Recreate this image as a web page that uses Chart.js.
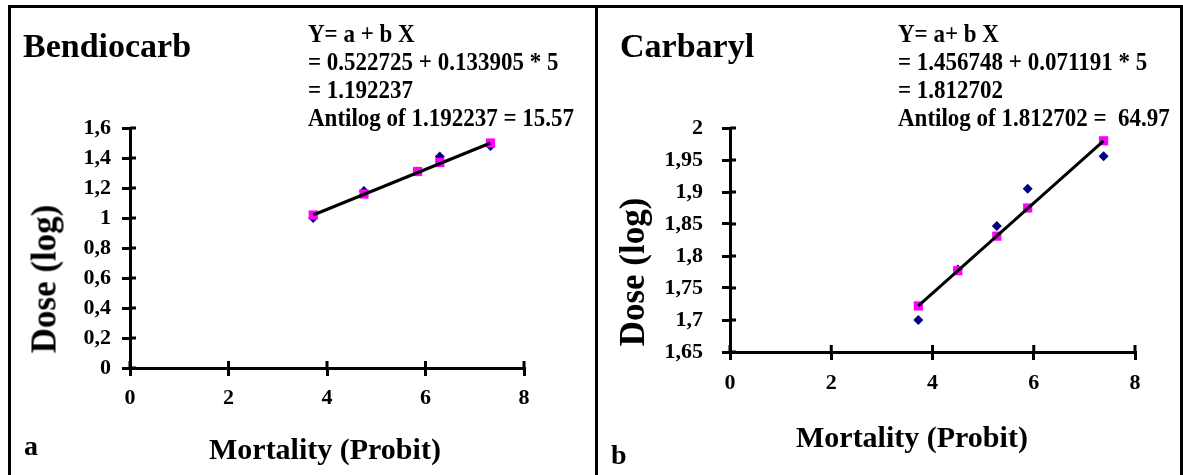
<!DOCTYPE html>
<html>
<head>
<meta charset="utf-8">
<script src="https://cdn.jsdelivr.net/npm/chart.js@4.4.1/dist/chart.umd.min.js"></script>
<style>
    body { margin: 0; background: #fff; }
    #wrap { position: relative; width: 1183px; height: 475px; overflow: hidden; font-family: "Liberation Serif", "Times New Roman", serif; font-weight: bold; color: #000; }
    .frame { position: absolute; left: 8px; top: 5px; width: 1169px; height: 480px; border: 3px solid #000; border-bottom: none; }
    .divider { position: absolute; left: 595px; top: 5px; width: 3px; height: 475px; background: #000; }
    canvas { position: absolute; top: 0; }
    .txt { position: absolute; line-height: 1; white-space: pre; }
    .eq { position: absolute; font-size: 25px; line-height: 28px; white-space: pre; transform: scaleX(0.92); transform-origin: left top; }
    .ylab { position: absolute; font-size: 35px; line-height: 1; white-space: pre; transform: translate(-50%, -50%) rotate(-90deg); }
</style>
</head>
<body>
<div id="wrap">
    <div class="frame"></div>
    <div class="divider"></div>
    <canvas id="bendiocarb" width="595" height="475" style="left:0px"></canvas>
    <canvas id="carbaryl" width="588" height="475" style="left:595px"></canvas>

    <div class="txt" style="left:23px; top:29px; font-size:34px;">Bendiocarb</div>
    <div class="eq" style="left:308px; top:20px;">Y= a + b X
= 0.522725 + 0.133905 * 5
= 1.192237
Antilog of 1.192237 = 15.57</div>
    <div class="ylab" style="left:44px; top:279px;">Dose (log)</div>
    <div class="txt" style="left:209px; top:434px; font-size:30px;">Mortality (Probit)</div>
    <div class="txt" style="left:24px; top:432px; font-size:28px;">a</div>

    <div class="txt" style="left:620px; top:29px; font-size:34px;">Carbaryl</div>
    <div class="eq" style="left:898px; top:20px;">Y= a+ b X
= 1.456748 + 0.071191 * 5
= 1.812702
Antilog of 1.812702 =  64.97</div>
    <div class="ylab" style="left:632px; top:272px;">Dose (log)</div>
    <div class="txt" style="left:796px; top:422px; font-size:30px;">Mortality (Probit)</div>
    <div class="txt" style="left:611px; top:441px; font-size:28px;">b</div>
</div>

<script>
    // Data
    var xTicks = ['0', '2', '4', '6', '8'];

    var bendioX = [3.72, 4.75, 5.84, 6.29, 7.32];
    var bendioObserved = [1.00, 1.18, 1.31, 1.41, 1.48];
    var bendioFitted = [1.02, 1.16, 1.31, 1.37, 1.50];
    var bendioYTicks = ['0', '0,2', '0,4', '0,6', '0,8', '1', '1,2', '1,4', '1,6'];

    var carbX = [3.72, 4.50, 5.27, 5.88, 7.38];
    var carbObserved = [1.700, 1.779, 1.847, 1.905, 1.956];
    var carbFitted = [1.722, 1.777, 1.831, 1.875, 1.980];
    var carbYTicks = ['1,65', '1,7', '1,75', '1,8', '1,85', '1,9', '1,95', '2'];


    Chart.defaults.font.family = '"Liberation Serif", "Times New Roman", serif';
    Chart.defaults.font.weight = 'bold';
    Chart.defaults.color = '#000';

    function pts(xs, ys) {
        return xs.map(function (x, i) { return {x: x, y: ys[i]}; });
    }

    // tick marks cross the axis line: draw the inner half
    var innerTicks = {
        id: 'innerTicks',
        afterDraw: function (chart) {
            var ctx = chart.ctx, area = chart.chartArea;
            var sx = chart.scales.x, sy = chart.scales.y;
            ctx.save();
            ctx.strokeStyle = '#000';
            ctx.lineWidth = 3;
            ctx.beginPath();
            sx.ticks.forEach(function (t) {
                var p = sx.getPixelForValue(t.value);
                ctx.moveTo(p, area.bottom);
                ctx.lineTo(p, area.bottom - 7);
            });
            sy.ticks.forEach(function (t) {
                var p = sy.getPixelForValue(t.value);
                ctx.moveTo(area.left, p);
                ctx.lineTo(area.left + 6, p);
            });
            ctx.stroke();
            ctx.restore();
        }
    };

    function makeChart(id, xs, observed, fitted, yMin, yMax, yStep, yLabels, pad, yWidth, yPad, xPad) {
        var ctx = document.getElementById(id).getContext('2d');
        var fit = pts(xs, fitted);
        return new Chart(ctx, {
            type: 'scatter',
            data: {
                datasets: [{
                    // regression line
                    data: [fit[0], fit[fit.length - 1]],
                    showLine: true,
                    borderColor: '#000',
                    borderWidth: 3,
                    pointRadius: 0
                },
                {
                    data: fit,
                    pointStyle: 'rect',
                    pointRadius: 6.5,
                    backgroundColor: '#ff00ff',
                    borderColor: '#ff00ff',
                    borderWidth: 0
                },
                {
                    data: pts(xs, observed),
                    pointStyle: 'rectRot',
                    pointRadius: 5,
                    backgroundColor: '#000080',
                    borderColor: '#000080',
                    borderWidth: 0
                }]
            },
            options: {
                responsive: false,
                animation: false,
                layout: {padding: pad},
                plugins: {legend: {display: false}, tooltip: {enabled: false}},
                scales: {
                    x: {
                        min: 0, max: 8,
                        afterFit: function (s) { s.height = 50; },
                        border: {color: '#000', width: 3},
                        grid: {drawOnChartArea: false, drawTicks: true, tickLength: 8, color: '#000', lineWidth: 3},
                        ticks: {
                            stepSize: 2, padding: xPad,
                            font: {size: 22, weight: 'bold'},
                            callback: function (v, i) { return xTicks[i]; }
                        }
                    },
                    y: {
                        min: yMin, max: yMax,
                        afterFit: function (s) { s.width = yWidth; },
                        border: {color: '#000', width: 3},
                        grid: {drawOnChartArea: false, drawTicks: true, tickLength: 8, color: '#000', lineWidth: 3},
                        ticks: {
                            stepSize: yStep, padding: yPad,
                            font: {size: 22, weight: 'bold'},
                            callback: function (v, i) { return yLabels[i]; }
                        }
                    }
                }
            },
            plugins: [innerTicks]
        });
    }

    // Bendiocarb
    makeChart('bendiocarb', bendioX, bendioObserved, bendioFitted, 0, 1.6, 0.2, bendioYTicks,
        {left: 70, right: 71, top: 128, bottom: 57}, 60, 11, 9);

    // Carbaryl
    makeChart('carbaryl', carbX, carbObserved, carbFitted, 1.65, 2, 0.05, carbYTicks,
        {left: 65, right: 48, top: 128, bottom: 73}, 70, 19, 10);
</script>
</body>
</html>
